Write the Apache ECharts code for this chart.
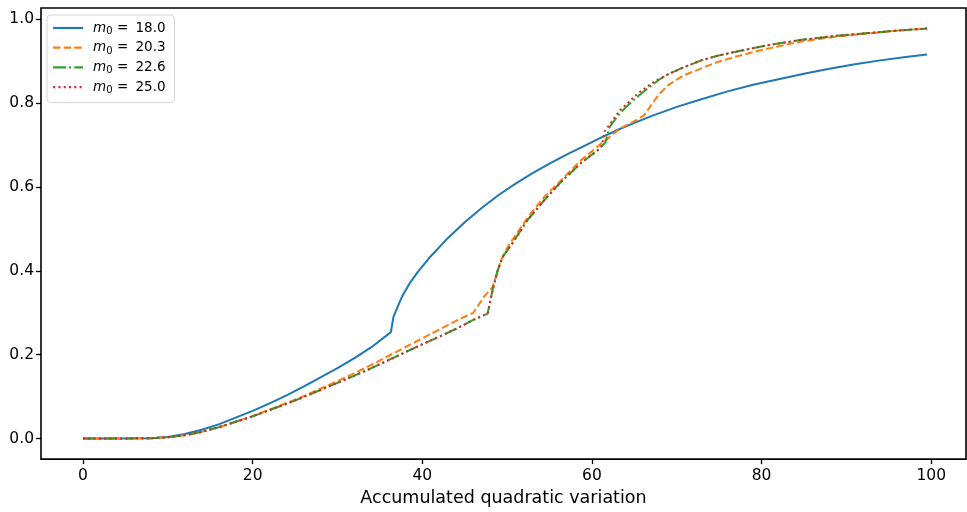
<!DOCTYPE html>
<html>
<head>
<meta charset="utf-8">
<script src="https://cdn.jsdelivr.net/npm/echarts@6/dist/echarts.min.js"></script>
<style>html,body{margin:0;padding:0;background:#fff}#c{width:967px;height:512px}</style>
</head>
<body>
<div id="c"></div>
<script>
// ---- data ----
const seriesNames = ['18.0', '20.3', '22.6', '25.0'];
const xTicks = [0, 20, 40, 60, 80, 100];
const yTicks = [0, 0.2, 0.4, 0.6, 0.8, 1.0];

const blueX = [0,4,8,10,12,14,16,18,20,22,24,26,28,30,32,34,36.3,36.6,37.1,37.7,38.5,39.5,41,43,45,47,49,51,53,55,57,59,61,63,65,67,70,73,76,79,82,85,88,91,94,97,99.5];
const blueY = [0,0,0.001,0.004,0.011,0.021,0.034,0.050,0.066,0.084,0.103,0.124,0.146,0.168,0.192,0.218,0.254,0.290,0.315,0.342,0.370,0.398,0.435,0.478,0.516,0.550,0.581,0.608,0.633,0.656,0.677,0.697,0.717,0.736,0.753,0.769,0.791,0.810,0.828,0.844,0.857,0.870,0.882,0.893,0.902,0.910,0.916];

const orangeX = [0,4,8,10,12,14,16,18,20,22,24,26,28,30,32,34,36,38,40,42,44,46.0,47.3,48.3,48.8,49.3,50.1,51,52.4,54.4,56.4,58.7,60,61.1,61.9,62.6,63.4,64.2,65,65.6,66.2,66.7,67.2,68,69,70,70.9,72.9,74.8,76.8,78.7,80.7,84.7,88.5,92.5,96,99.5];
const orangeY = [0,0,0.001,0.003,0.008,0.016,0.027,0.040,0.054,0.069,0.085,0.101,0.119,0.137,0.156,0.176,0.197,0.218,0.239,0.260,0.281,0.300,0.339,0.362,0.395,0.426,0.458,0.485,0.527,0.577,0.617,0.664,0.685,0.704,0.716,0.728,0.740,0.749,0.757,0.764,0.772,0.787,0.802,0.823,0.843,0.856,0.867,0.883,0.898,0.910,0.920,0.930,0.947,0.958,0.966,0.973,0.978];

const greenX = [0,4,8,10,12,14,16,18,20,22,24,26,28,30,32,34,36,38,40,42,44,46,47.7,48.3,48.9,49.5,50.5,52.4,54.4,56.4,58.7,60.7,61.6,62.0,62.4,63.1,64,65,66,67,68,69,71,72.9,74.8,76.8,78.7,80.7,84.7,88.5,92.5,96,99.5];
const greenY = [0,0,0.001,0.003,0.008,0.016,0.027,0.040,0.053,0.068,0.083,0.099,0.116,0.133,0.150,0.168,0.187,0.206,0.225,0.243,0.262,0.283,0.298,0.355,0.402,0.434,0.462,0.521,0.569,0.613,0.657,0.688,0.706,0.740,0.752,0.771,0.790,0.809,0.826,0.842,0.857,0.869,0.887,0.902,0.913,0.922,0.930,0.938,0.951,0.960,0.967,0.973,0.978];

const redX = [0,4,8,10,12,14,16,18,20,22,24,26,28,30,32,34,36,38,40,42,44,46,47.7,48.3,48.9,49.5,50.5,52.4,54.4,56.4,58.7,60.7,61.2,61.5,61.9,62.6,63.4,64.2,65,65.8,67.4,69,71,72.9,74.8,76.8,78.7,80.7,84.7,88.5,92.5,96,99.5];
const redY = [0,0,0.001,0.003,0.008,0.016,0.027,0.040,0.053,0.068,0.083,0.099,0.116,0.133,0.150,0.168,0.187,0.206,0.225,0.243,0.262,0.283,0.298,0.355,0.402,0.434,0.462,0.521,0.569,0.613,0.657,0.688,0.700,0.733,0.744,0.764,0.785,0.800,0.816,0.829,0.852,0.869,0.887,0.902,0.913,0.922,0.930,0.938,0.951,0.960,0.967,0.973,0.978];

const xs = [blueX, orangeX, greenX, redX];
const ys = [blueY, orangeY, greenY, redY];
const colors = ['#1f77b4', '#ff7f0e', '#2ca02c', '#d62728'];
const dashes = ['solid', [7.4, 3.2], [12.8, 3.2, 2, 3.2], [2, 3.3]];

const FONT = 'DejaVu Sans';
const chart = echarts.init(document.getElementById('c'), null, {renderer: 'canvas'});

const series = seriesNames.map((n, k) => ({
  name: n,
  type: 'line',
  data: xs[k].map((x, i) => [x, ys[k][i]]),
  symbol: 'none',
  showSymbol: false,
  smooth: false,
  clip: true,
  lineStyle: {color: colors[k], width: 2, type: dashes[k], cap: 'butt'},
  itemStyle: {color: colors[k]},
  z: 2 + k
}));

chart.setOption({
  animation: false,
  backgroundColor: '#fff',
  grid: {left: 41, right: 1, top: 8, bottom: 52, show: true, borderColor: '#000', borderWidth: 1.6, backgroundColor: 'transparent'},
  xAxis: {
    type: 'value', min: -4.95, max: 104.1,
    axisLine: {show: false, onZero: false},
    splitLine: {show: false},
    axisTick: {show: true, customValues: xTicks, length: 5, lineStyle: {color: '#000', width: 1.3}},
    axisLabel: {customValues: xTicks, color: '#000', fontFamily: FONT, fontSize: 15.5, margin: 9},
    name: 'Accumulated quadratic variation',
    nameLocation: 'middle', nameGap: 29,
    nameTextStyle: {color: '#000', fontFamily: FONT, fontSize: 17.5}
  },
  yAxis: {
    type: 'value', min: -0.0489, max: 1.0269,
    axisLine: {show: false, onZero: false},
    splitLine: {show: false},
    axisTick: {show: true, customValues: yTicks, length: 5, lineStyle: {color: '#000', width: 1.3}},
    axisLabel: {customValues: yTicks, color: '#000', fontFamily: FONT, fontSize: 15.5, margin: 7,
      formatter: v => v.toFixed(1)}
  },
  legend: {
    orient: 'vertical', left: 47, top: 15,
    backgroundColor: '#fff', borderColor: '#d6d6d6', borderWidth: 1, borderRadius: 4,
    padding: [6, 9, 7, 5],
    itemWidth: 30, itemHeight: 14, itemGap: 4.2,
    data: seriesNames,
    itemStyle: {opacity: 0, borderWidth: 0},
    lineStyle: {width: 2.2},
    formatter: name => '{i|m}{s|0}{t| = }{n|' + name + '}',
    textStyle: {
      color: '#000', fontFamily: FONT, fontSize: 13.5, padding: [0, 0, 0, 5],
      rich: {
        i: {fontFamily: FONT, fontStyle: 'italic', fontSize: 13.5, lineHeight: 16, verticalAlign: 'middle'},
        s: {fontFamily: FONT, fontSize: 10, lineHeight: 17, verticalAlign: 'bottom'},
        t: {fontFamily: FONT, fontSize: 13.5, lineHeight: 16, verticalAlign: 'middle'},
        n: {fontFamily: FONT, fontSize: 13.5, lineHeight: 16, verticalAlign: 'middle', padding: [0, 0, 0, 3]}
      }
    }
  },
  series: series
});
</script>
</body>
</html>
